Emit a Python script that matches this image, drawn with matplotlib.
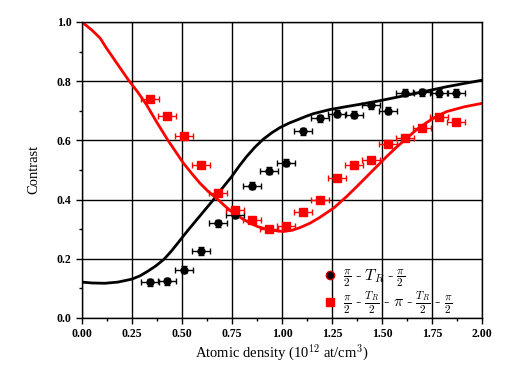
import matplotlib
matplotlib.use("Agg")
import matplotlib.pyplot as plt
import numpy as np
from matplotlib.ticker import MultipleLocator, FormatStrFormatter
from matplotlib.lines import Line2D

plt.rcParams['mathtext.fontset'] = 'cm'
plt.rcParams['font.family'] = ['Liberation Serif', 'DejaVu Serif']

# Measured data: sequence 1 (black circles)
x_black = [0.34, 0.425, 0.51, 0.595, 0.68, 0.765, 0.85, 0.935, 1.02, 1.105, 1.19, 1.275,
           1.36, 1.445, 1.53, 1.615, 1.70, 1.785, 1.87]
y_black = [0.121, 0.123, 0.163, 0.226, 0.319, 0.348, 0.446, 0.497, 0.525, 0.631, 0.675, 0.690,
           0.687, 0.719, 0.700, 0.761, 0.762, 0.760, 0.760]
# Measured data: sequence 2 (red squares)
x_red = [0.34, 0.425, 0.51, 0.595, 0.68, 0.765, 0.85, 0.935, 1.02, 1.105, 1.19, 1.275,
         1.36, 1.445, 1.53, 1.615, 1.70, 1.785, 1.87]
y_red = [0.740, 0.682, 0.615, 0.516, 0.421, 0.363, 0.331, 0.300, 0.312, 0.359, 0.400, 0.471,
         0.518, 0.534, 0.586, 0.608, 0.642, 0.680, 0.661]
xerr = 0.043
yerr_black = 0.012

# Theory curves
x_curve_black = [0.0, 0.05, 0.115, 0.18, 0.25, 0.29, 0.33, 0.37, 0.41, 0.45, 0.49, 0.53, 0.573, 0.615,
                 0.657, 0.70, 0.748, 0.785, 0.823, 0.865, 0.907, 0.95, 0.99, 1.035, 1.08, 1.12, 1.157,
                 1.24, 1.323, 1.41, 1.49, 1.57, 1.657, 1.74, 1.823, 1.91, 2.0]
y_curve_black = [0.121, 0.118, 0.117, 0.121, 0.131, 0.142, 0.158, 0.176, 0.198, 0.228, 0.262, 0.296,
                 0.331, 0.365, 0.399, 0.437, 0.477, 0.512, 0.545, 0.577, 0.604, 0.626, 0.643, 0.658,
                 0.670, 0.681, 0.690, 0.704, 0.714, 0.724, 0.734, 0.745, 0.757, 0.769, 0.781, 0.792, 0.803]
x_curve_red = [0.0, 0.05, 0.09, 0.123, 0.175, 0.232, 0.28, 0.323, 0.375, 0.43, 0.47, 0.507, 0.55, 0.59,
               0.63, 0.673, 0.715, 0.757, 0.80, 0.84, 0.88, 0.923, 0.965, 1.007, 1.05, 1.09, 1.14,
               1.19, 1.26, 1.323, 1.373, 1.423, 1.473, 1.523, 1.573, 1.623, 1.673, 1.723, 1.773,
               1.823, 1.91, 2.0]
y_curve_red = [1.0, 0.972, 0.946, 0.911, 0.86, 0.804, 0.762, 0.72, 0.66, 0.60, 0.56, 0.523, 0.487,
               0.455, 0.428, 0.404, 0.378, 0.354, 0.336, 0.320, 0.308, 0.300, 0.295, 0.292, 0.296,
               0.305, 0.320, 0.340, 0.372, 0.410, 0.443, 0.477, 0.511, 0.545, 0.577, 0.607, 0.636,
               0.660, 0.681, 0.697, 0.713, 0.725]

label_black = r'$\frac{\pi}{2}$ - $T_R$ - $\frac{\pi}{2}$'
label_red = r'$\frac{\pi}{2}$ - $\frac{T_R}{2}$ - $\pi$ - $\frac{T_R}{2}$ - $\frac{\pi}{2}$'

fig = plt.figure(figsize=(5.09, 3.78), dpi=100)
ax = fig.add_axes([0.161, 0.159, 0.786, 0.783])

ax.plot(x_curve_black, y_curve_black, color='black', lw=2, zorder=2)
ax.plot(x_curve_red, y_curve_red, color='red', lw=2, zorder=2)

ax.errorbar(x_black, y_black, xerr=xerr, yerr=yerr_black, fmt='o', color='black', ms=5,
            capsize=2.5, elinewidth=1, capthick=1, zorder=3)
ax.errorbar(x_red, y_red, xerr=xerr, fmt='s', color='red', ms=5.5,
            capsize=2.5, elinewidth=1, capthick=1, zorder=3)

ax.set_xlim(0, 2.0)
ax.set_ylim(0, 1.0)
ax.xaxis.set_major_locator(MultipleLocator(0.25))
ax.xaxis.set_minor_locator(MultipleLocator(0.125))
ax.yaxis.set_major_locator(MultipleLocator(0.2))
ax.yaxis.set_minor_locator(MultipleLocator(0.1))
ax.xaxis.set_major_formatter(FormatStrFormatter('%.2f'))
ax.yaxis.set_major_formatter(FormatStrFormatter('%.1f'))
ax.grid(True, which='major', color='black', lw=1)
ax.set_axisbelow(True)
ax.tick_params(which='both', direction='out', width=1)
ax.tick_params(which='major', length=4, labelsize=8.5)
ax.tick_params(which='minor', length=2.5)
for lab in ax.get_xticklabels() + ax.get_yticklabels():
    lab.set_fontweight('bold')
for s in ax.spines.values():
    s.set_linewidth(1)

ax.set_xlabel(r'Atomic density (10$^{12}$ at/cm$^{3}$)', fontsize=10.5, labelpad=2)
ax.set_ylabel('Contrast', fontsize=10.5, labelpad=12)

handles = [Line2D([], [], ls='none', marker='o', color='black', markeredgecolor='#cc0000', ms=6),
           Line2D([], [], ls='none', marker='s', color='red', ms=6)]
leg = ax.legend(handles, [label_black, label_red], loc='upper left', frameon=False, fontsize=11.5,
                handletextpad=0.3, handlelength=1.0, borderaxespad=0.0, borderpad=0.0,
                labelspacing=0.0, bbox_to_anchor=(0.6, 0.17))

fig.savefig('out.png', dpi=100)
